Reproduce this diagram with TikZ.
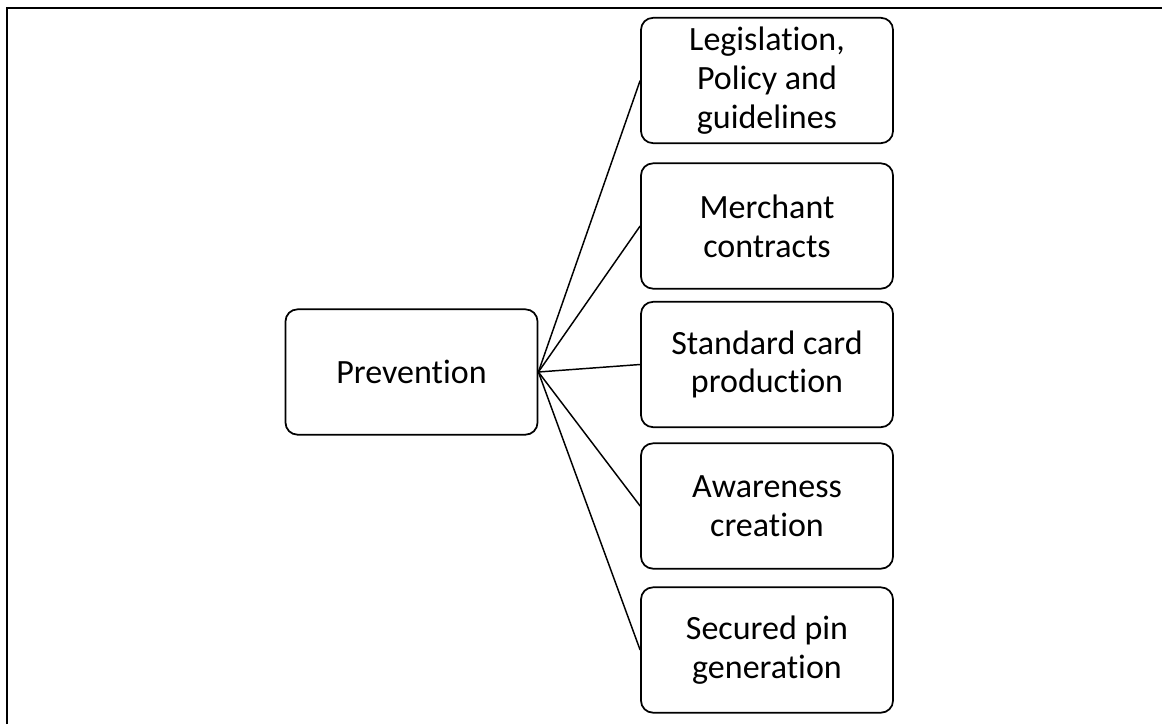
\documentclass[tikz,border=0pt]{standalone}
\usepackage{fontspec}
\setmainfont{Carlito}[RawFeature=-liga]
\begin{document}
\begin{tikzpicture}[x=0.75pt,y=-0.75pt,
  box/.style={draw=black,line width=1.3pt,rounded corners=9pt,minimum width=189pt,minimum height=94pt,
    align=center,font=\fontsize{25.5}{29}\selectfont,inner sep=0pt},
  conn/.style={line width=1.1pt},
  frame/.style={line width=1.6pt}]
\useasboundingbox (0,0) rectangle (1162,724);
\draw[frame] (7,724) -- (7,8) -- (1162,8);
\node[box] (prev) at (411.5,372) {Prevention};
\node[box] (b1) at (767,80.5) {Legislation,\\Policy and\\guidelines};
\node[box] (b2) at (767,226) {Merchant\\contracts};
\node[box] (b3) at (767,364.5) {Standard card\\production};
\node[box] (b4) at (767,506) {Awareness\\creation};
\node[box] (b5) at (767,650) {Secured pin\\generation};
\foreach \b in {b1,b2,b3,b4,b5} \draw[conn] (prev.east) -- (\b.west);
\end{tikzpicture}
\end{document}
